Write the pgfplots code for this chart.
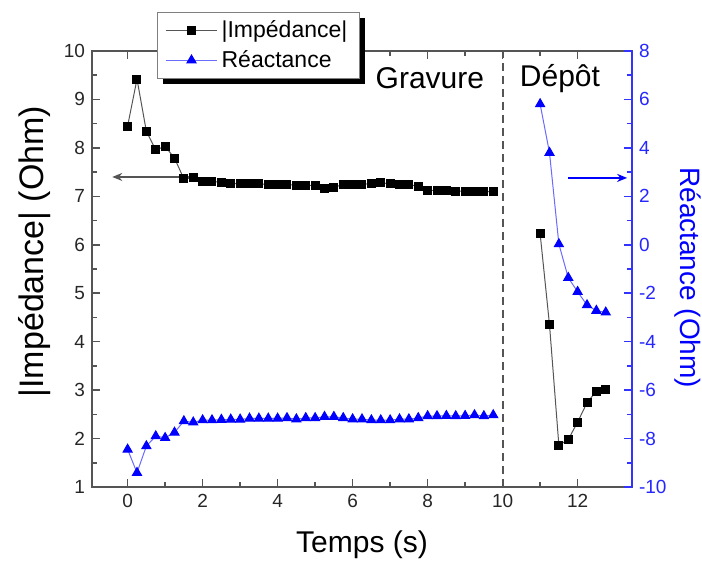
\documentclass[border=0pt]{standalone}
\usepackage{pgfplots}
\pgfplotsset{compat=1.18}
\usepackage{fontspec}
\setmainfont{Liberation Sans}
\usetikzlibrary{shadows,arrows.meta}

\definecolor{axgray}{HTML}{555555}
\definecolor{ptblue}{HTML}{0000FF}
\definecolor{lnblue}{HTML}{6A6AFF}

% legend images must not pick up the legend's drop shadow
\makeatletter
\tikzset{no preaction/.code={\let\tikz@preactions\pgfutil@empty}}
\makeatother

\pgfplotsset{
  common/.style={
    scale only axis, width=270pt, height=218pt,
    at={(0,0)}, anchor=south west,
    xmin=-0.95, xmax=13.45,
    /pgf/number format/assume math mode=true,
    tick label style={font=\fontsize{9.5}{11}\selectfont},
    major tick length=4pt, minor tick length=2.5pt,
    tick style={line width=0.8pt},
  }
}

\begin{document}
\begin{tikzpicture}
\path[use as bounding box] (-46pt,-37.5pt) rectangle (305pt,243.5pt);

% |Impedance| on the left axis
\begin{axis}[common,
  ymin=1, ymax=10,
  ytick={1,2,...,10}, minor y tick num=1,
  xtick={0,2,...,12}, minor x tick num=1,
  ytick pos=left,
  axis line style={axgray, line width=1pt},
  tick style={axgray},
  ticklabel style={color=black!85},
  xlabel={Temps (s)}, ylabel={|Impédance| (Ohm)},
  xlabel style={font=\fontsize{15}{17}\selectfont,
    at={(axis description cs:0.5,-0.133)}, anchor=center},
  ylabel style={font=\fontsize{17}{19}\selectfont,
    at={(axis description cs:-0.106,0.54)}, anchor=center},
]
\addplot[axgray, line width=0.5pt, mark=square*, mark size=2pt,
  mark options={black, solid}] coordinates {
  (0,8.45) (0.25,9.42) (0.5,8.34) (0.75,7.96) (1.0,8.03) (1.25,7.79)
  (1.5,7.36) (1.75,7.38) (2.0,7.31) (2.25,7.31) (2.5,7.29) (2.75,7.26)
  (3.0,7.26) (3.25,7.26) (3.5,7.26) (3.75,7.24) (4.0,7.24) (4.25,7.24)
  (4.5,7.23) (4.75,7.23) (5.0,7.22) (5.25,7.17) (5.5,7.19) (5.75,7.24)
  (6.0,7.24) (6.25,7.25) (6.5,7.26) (6.75,7.28) (7.0,7.26) (7.25,7.25)
  (7.5,7.25) (7.75,7.20) (8.0,7.13) (8.25,7.12) (8.5,7.12) (8.75,7.11)
  (9.0,7.11) (9.25,7.10) (9.5,7.10) (9.75,7.09)
};
\addplot[axgray, line width=0.5pt, mark=square*, mark size=2pt,
  mark options={black, solid}] coordinates {
  (11,6.23) (11.25,4.35) (11.5,1.86) (11.75,1.98) (12,2.34)
  (12.25,2.74) (12.5,2.98) (12.75,3.02)
};
\draw[axgray, line width=0.9pt, dash pattern=on 4pt off 2.5pt]
  (axis cs:10,1) -- (axis cs:10,10);
\draw[axgray, line width=0.8pt, -{Stealth[length=5pt,width=4pt]}]
  (axis cs:1.67,7.40) -- (axis cs:-0.41,7.40);
\node[font=\fontsize{15}{17}\selectfont] at (axis cs:8.06,9.44) {Gravure};
\node[font=\fontsize{15}{17}\selectfont] at (axis cs:11.53,9.44) {Dépôt};
\end{axis}

% Reactance on the right axis
\begin{axis}[common,
  ymin=-10, ymax=8,
  ytick={-10,-8,...,8}, minor y tick num=1,
  axis x line=none, axis y line*=right,
  axis line style={ptblue!80!white, line width=1pt},
  tick style={ptblue!80!white},
  ticklabel style={color=ptblue!85!white},
  ylabel={Réactance (Ohm)},
  ylabel style={font=\fontsize{14}{16}\selectfont, color=ptblue,
    at={(axis description cs:1.104,0.48)}, anchor=center, rotate=180},
  legend style={at={(0.12,1.09)}, anchor=north west,
    draw=gray, fill=white, line width=0.6pt,
    font=\fontsize{11.5}{13.5}\selectfont,
    drop shadow={shadow xshift=3pt, shadow yshift=-3pt, fill=black, opacity=1},
    row sep=1pt, inner xsep=4pt, inner ysep=2pt},
  legend cell align=left,
  legend image code/.code={
    \draw[no preaction, mark repeat=2, mark phase=2, #1]
      plot coordinates {(0cm,0cm) (0.45cm,0cm) (0.9cm,0cm)};},
]
\addlegendimage{axgray, line width=0.5pt, mark=square*, mark size=2pt,
  mark options={black, solid}}
\addlegendentry{|Impédance|}
\addplot[lnblue, line width=0.5pt, mark=triangle*, mark size=2.6pt,
  mark options={ptblue, solid}] coordinates {
  (0,-8.45) (0.25,-9.41) (0.5,-8.31) (0.75,-7.90) (1.0,-7.97) (1.25,-7.75)
  (1.5,-7.28) (1.75,-7.33) (2.0,-7.24) (2.25,-7.24) (2.5,-7.22) (2.75,-7.21)
  (3.0,-7.21) (3.25,-7.17) (3.5,-7.17) (3.75,-7.17) (4.0,-7.17) (4.25,-7.15)
  (4.5,-7.20) (4.75,-7.15) (5.0,-7.15) (5.25,-7.10) (5.5,-7.10) (5.75,-7.15)
  (6.0,-7.20) (6.25,-7.20) (6.5,-7.24) (6.75,-7.24) (7.0,-7.24) (7.25,-7.20)
  (7.5,-7.20) (7.75,-7.15) (8.0,-7.07) (8.25,-7.07) (8.5,-7.06) (8.75,-7.07)
  (9.0,-7.06) (9.25,-7.03) (9.5,-7.07) (9.75,-7.03)
};
\addlegendentry{Réactance}
\addplot[lnblue, line width=0.5pt, mark=triangle*, mark size=2.6pt,
  mark options={ptblue, solid}, forget plot] coordinates {
  (11,5.81) (11.25,3.80) (11.5,0.03) (11.75,-1.36) (12,-1.94)
  (12.25,-2.49) (12.5,-2.72) (12.75,-2.79)
};
\draw[ptblue, line width=0.8pt, -{Stealth[length=5pt,width=4pt]}]
  (axis cs:11.75,2.76) -- (axis cs:13.32,2.76);
\end{axis}
\end{tikzpicture}
\end{document}
